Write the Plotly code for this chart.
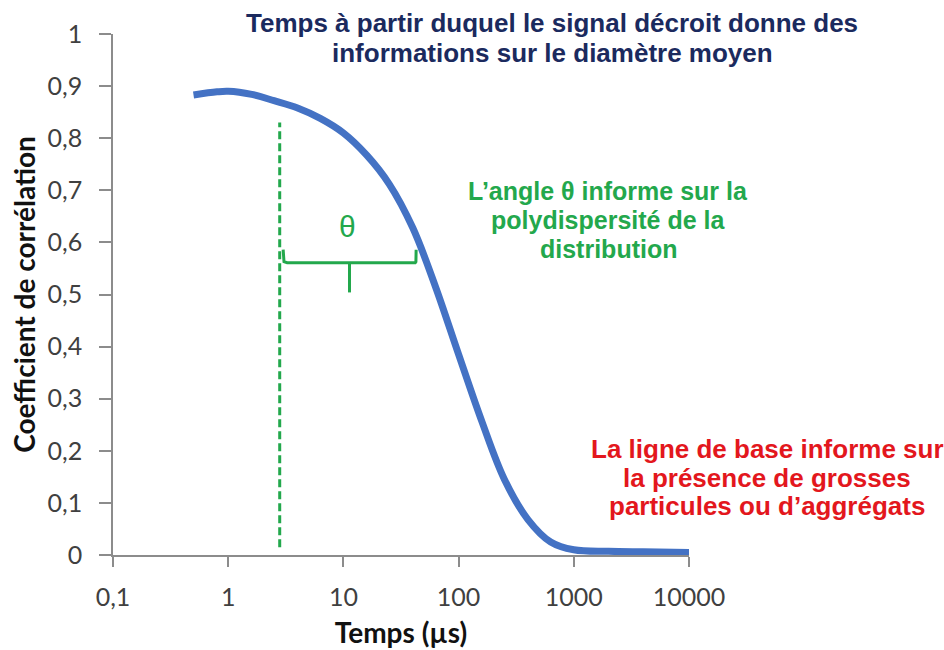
import plotly.graph_objects as go

# Autocorrelation curve (DLS): delay time in µs vs correlation coefficient
tau_us = [0.5, 0.8, 1, 1.6, 2.5, 4, 6.3, 10, 16, 25, 40, 63, 100, 160,
          250, 400, 630, 1000, 2000, 4000, 10000]
correlation = [0.883, 0.889, 0.890, 0.884, 0.872, 0.858, 0.838, 0.810, 0.767,
               0.712, 0.628, 0.515, 0.385, 0.255, 0.145, 0.068, 0.025, 0.010,
               0.007, 0.006, 0.005]

x_tick_vals = [0.1, 1, 10, 100, 1000, 10000]
x_tick_text = ["0,1", "1", "10", "100", "1000", "10000"]
y_tick_vals = [0, 0.1, 0.2, 0.3, 0.4, 0.5, 0.6, 0.7, 0.8, 0.9, 1]
y_tick_text = ["0", "0,1", "0,2", "0,3", "0,4", "0,5", "0,6", "0,7", "0,8", "0,9", "1"]

# Onset of decay (vertical marker) and the bracket spanning the angle θ
onset_tau = 2.8
onset_span = [0.015, 0.83]
brace_x = [3.0, 3.05, 3.25, 42.0, 42.6, 42.8]
brace_y = [0.586, 0.563, 0.561, 0.561, 0.563, 0.586]
stem_x = [11.3, 11.3]
stem_y = [0.561, 0.504]

BLUE = "#4472C4"
GREEN = "#23A84C"
RED = "#E3171D"
NAVY = "#1B2A5E"
AXIS_GREY = "#8C8C8C"

fig = go.Figure()

fig.add_trace(go.Scatter(
    x=[onset_tau, onset_tau], y=onset_span, mode="lines",
    line=dict(color=GREEN, width=3, dash="8px,4px"),
    hoverinfo="skip", showlegend=False))

fig.add_trace(go.Scatter(
    x=brace_x, y=brace_y, mode="lines",
    line=dict(color=GREEN, width=3), hoverinfo="skip", showlegend=False))
fig.add_trace(go.Scatter(
    x=stem_x, y=stem_y, mode="lines",
    line=dict(color=GREEN, width=3), hoverinfo="skip", showlegend=False))

fig.add_trace(go.Scatter(
    x=tau_us, y=correlation, mode="lines",
    line=dict(color=BLUE, width=7, shape="spline", smoothing=1.0),
    showlegend=False))

TICK_FONT = dict(family="Lato, Open Sans, sans-serif", size=25, color="#404040")
TITLE_FONT = dict(family="Lato, Open Sans, sans-serif", size=28, color="#111111")

fig.update_xaxes(
    type="log", range=[-1, 4], automargin=False,
    tickvals=x_tick_vals, ticktext=x_tick_text,
    ticks="outside", ticklen=10, tickwidth=1.5, tickcolor=AXIS_GREY,
    showline=True, linecolor=AXIS_GREY, linewidth=1.5,
    showgrid=False, zeroline=False,
    tickfont=TICK_FONT, ticklabelstandoff=9,
    title=dict(text="<b>Temps (µs)</b>", font=TITLE_FONT, standoff=14),
)
fig.update_yaxes(
    range=[0, 1], automargin=False,
    tickvals=y_tick_vals, ticktext=y_tick_text,
    ticks="outside", ticklen=12, tickwidth=1.5, tickcolor=AXIS_GREY,
    showline=True, linecolor=AXIS_GREY, linewidth=1.5,
    showgrid=False, zeroline=False,
    tickfont=TICK_FONT, ticklabelstandoff=12,
    title=dict(text="<b>Coefficient de corrélation</b>", font=TITLE_FONT, standoff=4),
)

ANN_FONT = "Liberation Sans, Arial, sans-serif"

# Plot area in pixels, used to place the text blocks in paper coordinates
PX_LEFT, PX_WIDTH, PX_BOTTOM, PX_HEIGHT = 113, 575.6, 555, 521


def add_text_block(lines, cx, cys, color, size):
    for text, cy in zip(lines, cys):
        fig.add_annotation(
            x=(cx - PX_LEFT) / PX_WIDTH, y=(PX_BOTTOM - cy) / PX_HEIGHT,
            xref="paper", yref="paper", xanchor="center", yanchor="middle",
            text=f"<b>{text}</b>", showarrow=False,
            font=dict(family=ANN_FONT, size=size, color=color))


add_text_block(["Temps à partir duquel le signal décroit donne des",
                "informations sur le diamètre moyen"],
               552, [23, 53], NAVY, 26)
add_text_block(["L’angle θ informe sur la", "polydispersité de la", "distribution"],
               608, [191, 220, 248.5], GREEN, 25)
add_text_block(["La ligne de base informe sur", "la présence de grosses",
                "particules ou d’aggrégats"],
               767, [449, 477.5, 506], RED, 26)

fig.add_annotation(
    x=1.035, y=0.63, xref="x", yref="y", xanchor="center", yanchor="middle",
    text="θ", showarrow=False,
    font=dict(family="Liberation Sans, Arial, sans-serif", size=30, color=GREEN))

fig.update_layout(
    width=944, height=650,
    margin=dict(l=PX_LEFT, r=944 - 689, t=34, b=95),
    paper_bgcolor="white", plot_bgcolor="white",
)

fig.write_html("out.html")
